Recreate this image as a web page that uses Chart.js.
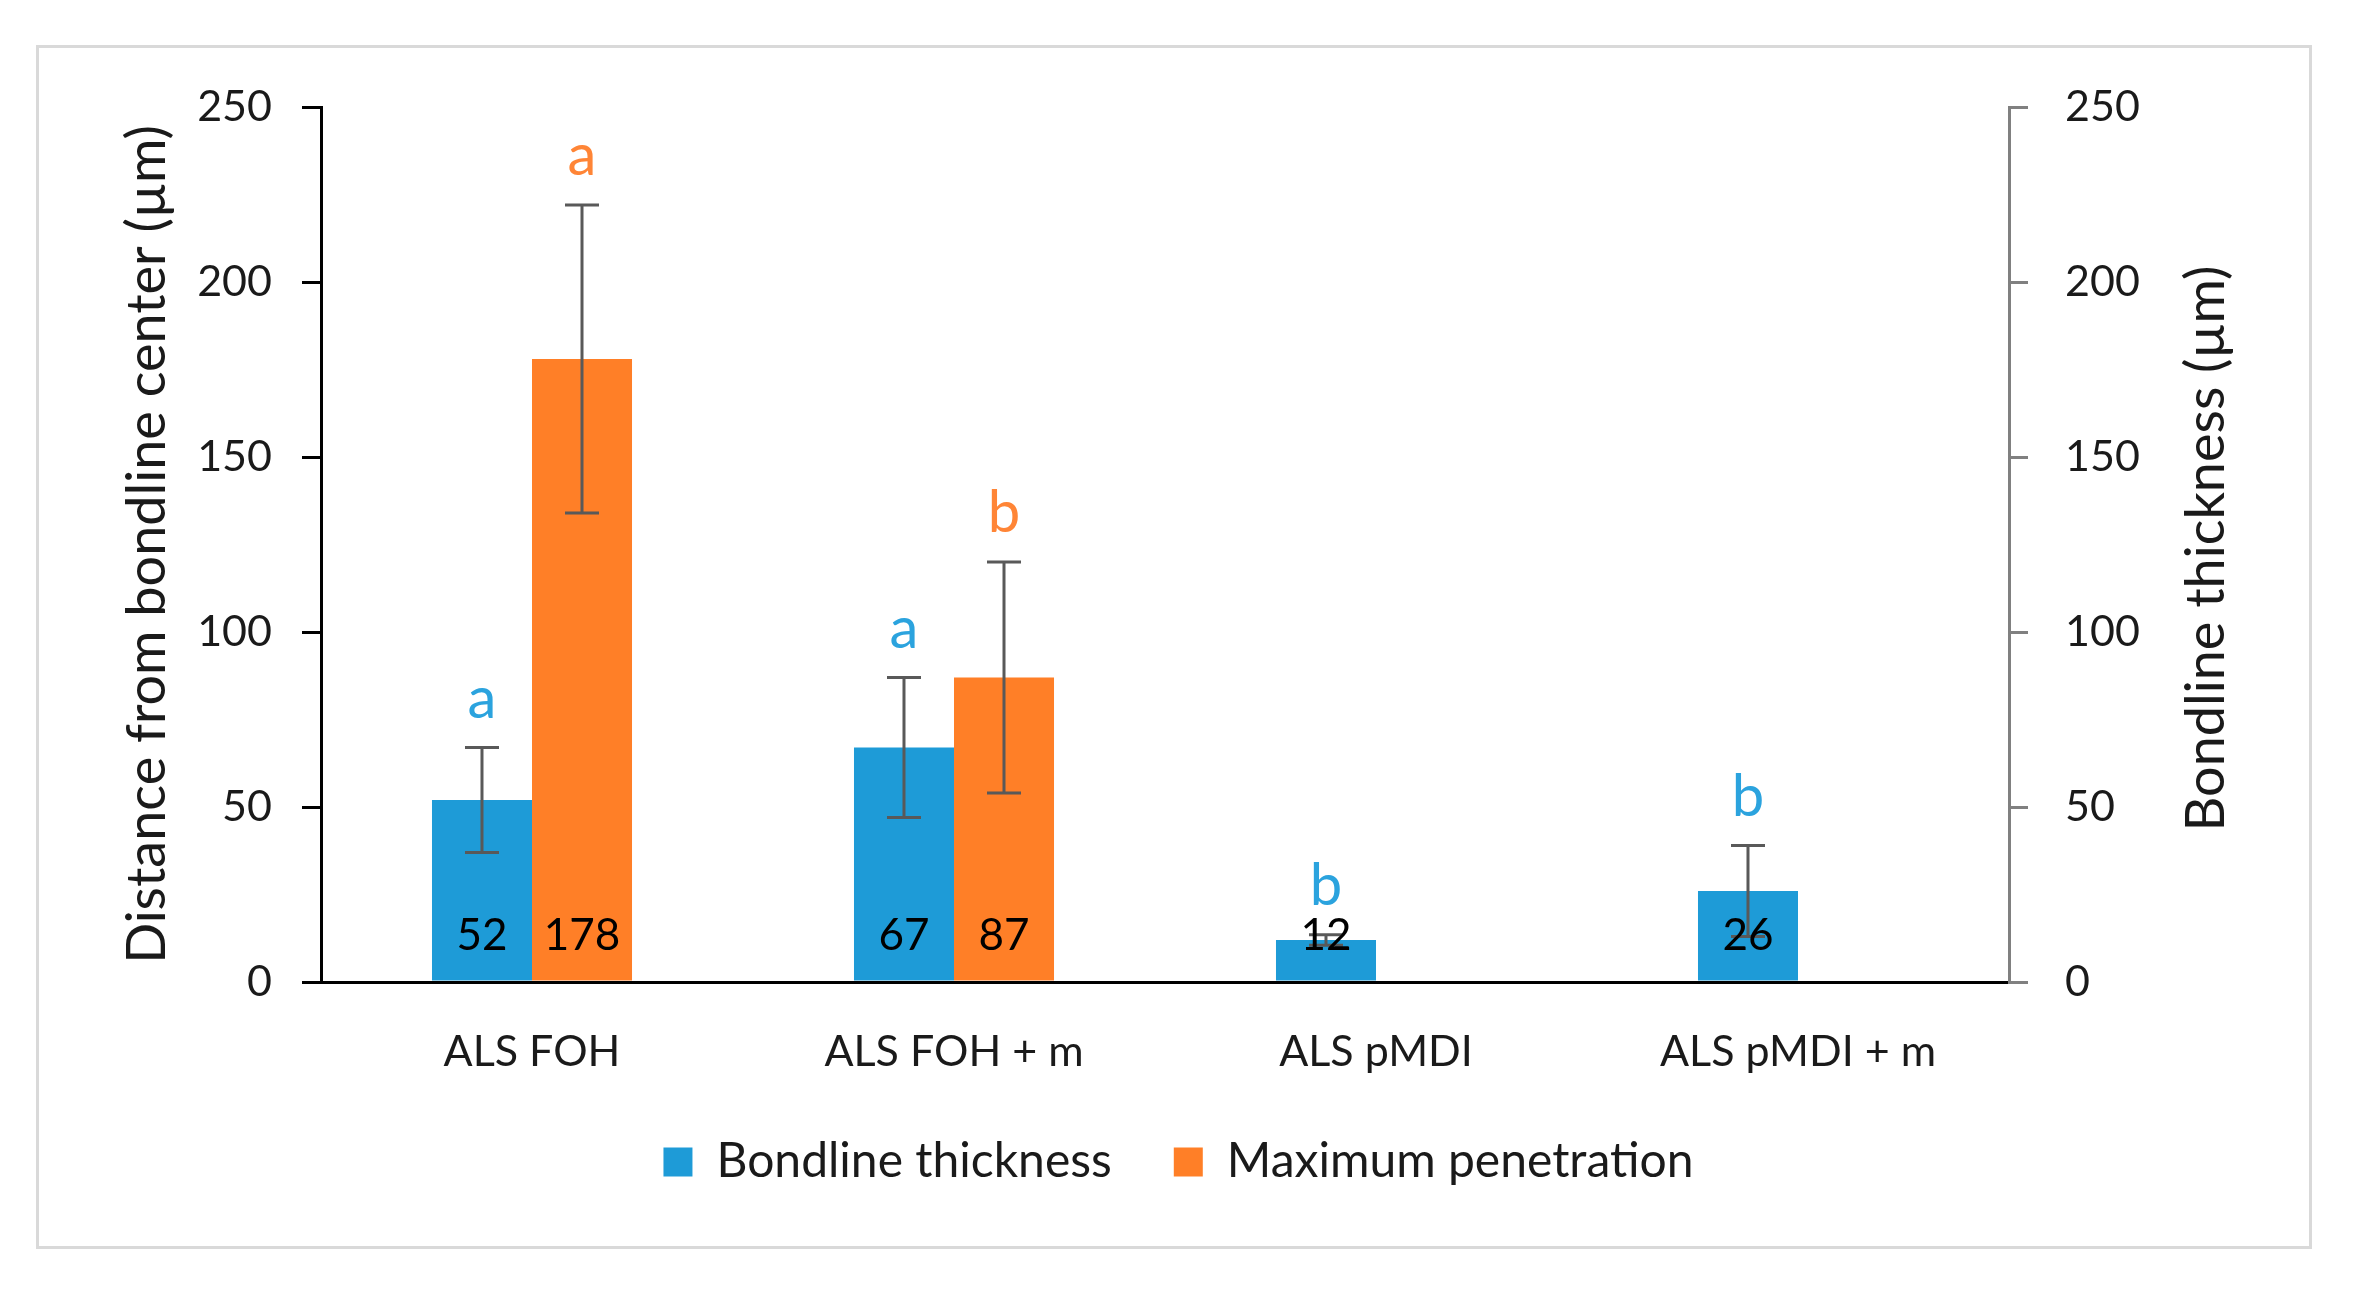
<!DOCTYPE html>
<html>
<head>
<meta charset="utf-8">
<script src="https://cdn.jsdelivr.net/npm/chart.js@4"></script>
<style>
  html, body { margin:0; padding:0; background:#fff; }
  #frame { position:absolute; left:36px; top:45px; width:2276px; height:1204px; box-sizing:border-box; border:3px solid #d9d9d9; }
  #wrap { position:absolute; left:0; top:0; width:2357px; height:1292px; }
</style>
</head>
<body>
<div id="frame"></div>
<div id="wrap"><canvas id="myChart"></canvas></div>
<script>
// =============================
// data
// =============================
const categories = ["ALS FOH", "ALS FOH + m", "ALS pMDI", "ALS pMDI + m"];
const bondlineThickness = [52, 67, 12, 26];
const bondlineError = [15, 20, 1.5, 13];
const maxPenetration = [178, 87, null, null];
const penetrationError = [44, 33, null, null];
const bondlineLetters = ["a", "a", "b", "b"];
const penetrationLetters = ["a", "b", "", ""];
const yMax = 250;
const yStep = 50;

const blue = "#1E9BD7";
const orange = "#FF7F27";
const blueText = "#2BA3DE";
const orangeText = "#FF8536";
const textColor = "#1a1a1a";
const fontFamily = "Lato, 'Open Sans', sans-serif";
const rightTitle = "Bondline thickness (µm)";

const errors = [bondlineError, penetrationError];
const letters = [bondlineLetters, penetrationLetters];
const letterColors = [blueText, orangeText];

// error bars, letters, value labels and the right axis title
const barExtras = {
    id: "barExtras",
    afterDatasetsDraw(chart){
        const ctx = chart.ctx;
        ctx.save();
        chart.data.datasets.forEach((ds, i) => {
            const meta = chart.getDatasetMeta(i);
            const scale = chart.scales[meta.yAxisID];
            meta.data.forEach((bar, j) => {
                const v = ds.data[j];
                if(v === null) return;
                const e = errors[i][j];
                const yTop = scale.getPixelForValue(v + e);
                const yBot = scale.getPixelForValue(v - e);
                ctx.strokeStyle = "#595959";
                ctx.lineWidth = 3;
                ctx.beginPath();
                ctx.moveTo(bar.x, yTop); ctx.lineTo(bar.x, yBot);
                ctx.moveTo(bar.x - 17, yTop); ctx.lineTo(bar.x + 17, yTop);
                ctx.moveTo(bar.x - 17, yBot); ctx.lineTo(bar.x + 17, yBot);
                ctx.stroke();

                // letter above the error bar
                ctx.fillStyle = letterColors[i];
                ctx.font = "58px " + fontFamily;
                ctx.textAlign = "center";
                ctx.textBaseline = "alphabetic";
                ctx.fillText(letters[i][j], bar.x, yTop - 30);

                // value at the bottom of the bar
                ctx.fillStyle = "#000";
                ctx.font = "44px " + fontFamily;
                ctx.textBaseline = "middle";
                ctx.fillText(String(v), bar.x, scale.getPixelForValue(0) - 46);
            });
        });

        // right title reads bottom to top
        const area = chart.chartArea;
        ctx.translate(2207, (area.top + area.bottom) / 2 + 4);
        ctx.rotate(-Math.PI / 2);
        ctx.fillStyle = textColor;
        ctx.font = "54px " + fontFamily;
        ctx.textAlign = "center";
        ctx.textBaseline = "middle";
        ctx.fillText(rightTitle, 0, 0);
        ctx.restore();
    }
};

new Chart(document.getElementById("myChart"), {
    type: "bar",
    data: {
        labels: categories,
        datasets: [
            {
                label: "Bondline thickness",
                data: bondlineThickness,
                backgroundColor: blue,
                yAxisID: "y1",
                barPercentage: 1,
                categoryPercentage: 0.474
            },
            {
                label: "Maximum penetration",
                data: maxPenetration,
                backgroundColor: orange,
                yAxisID: "y",
                barPercentage: 1,
                categoryPercentage: 0.474
            }
        ]
    },
    options: {
        responsive: true,
        maintainAspectRatio: false,
        animation: false,
        layout: { padding: { top: 107, left: 0, right: 0, bottom: 96 } },
        plugins: {
            tooltip: { enabled: false },
            legend: {
                position: "bottom",
                labels: {
                    boxWidth: 29,
                    boxHeight: 29,
                    padding: 62,
                    color: textColor,
                    font: { family: fontFamily, size: 48 }
                }
            }
        },
        scales: {
            x: {
                grid: { display: false, drawTicks: false },
                border: { display: true, color: "#000", width: 3 },
                ticks: { color: textColor, padding: 44, font: { family: fontFamily, size: 43 } },
                afterFit(scale){ scale.height = 94; }
            },
            y: {
                position: "left",
                min: 0,
                max: yMax,
                ticks: { stepSize: yStep, padding: 30, color: textColor, font: { family: fontFamily, size: 43 } },
                grid: { drawOnChartArea: false, drawTicks: true, tickLength: 19, color: "#000", lineWidth: 3 },
                border: { display: true, color: "#000", width: 3 },
                title: {
                    display: true,
                    text: "Distance from bondline center (µm)",
                    color: textColor,
                    padding: { top: 115, bottom: 0 },
                    font: { family: fontFamily, size: 54 }
                },
                afterFit(scale){ scale.width = 321; }
            },
            y1: {
                position: "right",
                min: 0,
                max: yMax,
                ticks: { stepSize: yStep, padding: 37, color: textColor, font: { family: fontFamily, size: 43 } },
                grid: { drawOnChartArea: false, drawTicks: true, tickLength: 19, color: "#808080", lineWidth: 3 },
                border: { display: true, color: "#808080", width: 3 },
                afterFit(scale){ scale.width = 348; }
            }
        }
    },
    plugins: [barExtras]
});
</script>
</body>
</html>
